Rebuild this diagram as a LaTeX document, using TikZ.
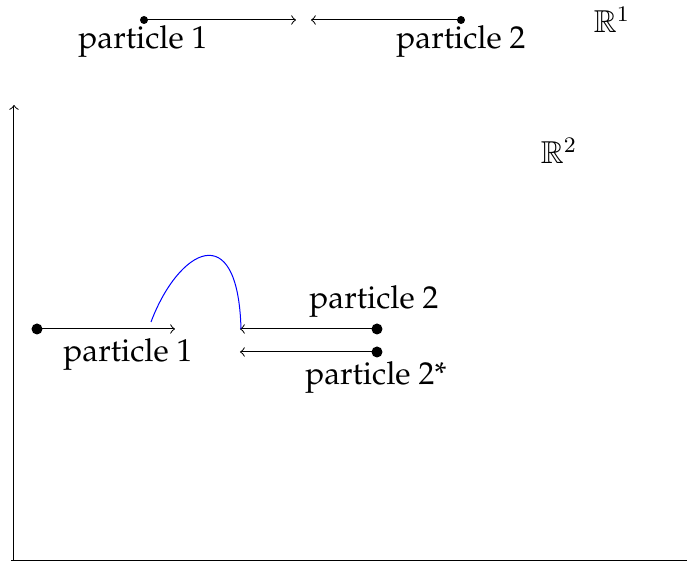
\documentclass[tikz,border=0pt]{standalone}
\usepackage[T1]{fontenc}
\usepackage{palatino}
\usepackage{amssymb}
\begin{document}
\begin{tikzpicture}[x=0.36pt,y=-0.36pt,
  dotsm/.style={circle,fill=black,inner sep=0pt,minimum size=8*0.36pt},
  dotlg/.style={circle,fill=black,inner sep=0pt,minimum size=11*0.36pt},
  lbl/.style={inner sep=0pt,font=\fontsize{11.4}{13}\selectfont},
  arr/.style={->,line width=0.36pt}]
\useasboundingbox (0,0) rectangle (687,563);
% R^1 line
\node[dotsm] (p1a) at (144,20) {};
\coordinate (t1a) at (296,20);
\node[dotsm] (p2a) at (461,20) {};
\coordinate (t2a) at (311,20);
\draw[arr] (p1a.center) -- (t1a);
\draw[arr] (p2a.center) -- (t2a);
\node[lbl] (l1a) at (143,42) {particle 1};
\node[lbl] (l2a) at (461,42) {particle 2};
\node[lbl] (r1) at (612,20) {$\mathbb{R}^1$};
% axes
\coordinate (o) at (14,561);
\coordinate (ytop) at (14,105);
\coordinate (xend) at (687,561);
\draw[arr] (o) -- (ytop);
\draw[line width=0.36pt] (11,561) -- (xend);
\node[lbl] (r2) at (559,151) {$\mathbb{R}^2$};
% R^2 particles
\node[dotlg] (p1b) at (37,329) {};
\coordinate (t1b) at (175,329);
\draw[arr] (p1b.center) -- (t1b);
\node[lbl] (l1b) at (128,355) {particle 1};
\node[dotlg] (p2b) at (377,329) {};
\coordinate (t2b) at (240,329);
\draw[arr] (p2b.center) -- (t2b);
\node[lbl] (l2b) at (374,302) {particle 2};
\node[dotlg] (p2s) at (377,352) {};
\coordinate (t2s) at (240,352);
\draw[arr] (p2s.center) -- (t2s);
\node[lbl] (l2s) at (376,378) {particle 2*};
% blue curve
\coordinate (cs) at (151,322);
\coordinate (ce) at (241,329);
\draw[blue,line width=0.36pt] (cs) .. controls (178,250) and (238,215) .. (ce);
\end{tikzpicture}
\end{document}
